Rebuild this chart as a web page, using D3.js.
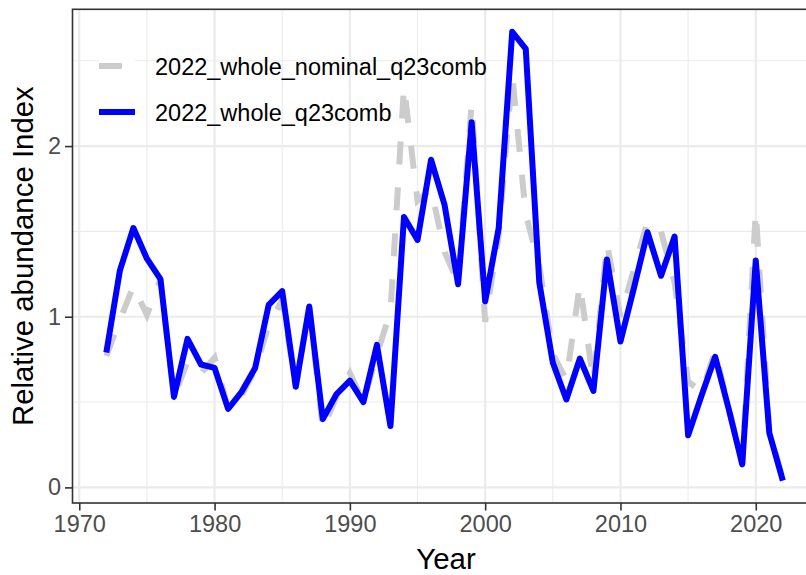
<!DOCTYPE html>
<html>
<head>
<meta charset="utf-8">
<script src="https://cdn.jsdelivr.net/npm/d3@7/dist/d3.min.js"></script>
<style>
  html, body { margin: 0; padding: 0; background: #ffffff; }
  svg { display: block; font-family: "Liberation Sans", Arial, Helvetica, sans-serif; }
</style>
</head>
<body>
<svg id="chart" width="806" height="575"></svg>
<script>
const years = d3.range(1972, 2023);

const nominal = [
  0.77, 0.98, 1.18, 1.01, 1.22, 0.53, 0.74, 0.67, 0.76, 0.46,
  0.54, 0.69, 0.95, 1.10, 0.58, 1.06, 0.34, 0.53, 0.67, 0.50,
  0.78, 1.03, 2.35, 1.68, 1.75, 1.38, 1.20, 2.25, 0.97, 1.48,
  2.42, 1.60, 1.30, 0.78, 0.63, 1.19, 0.62, 1.43, 1.00, 1.28,
  1.56, 1.50, 1.20, 0.62, 0.56, 0.80, 0.47, 0.13, 1.62, 0.33,
  0.05
];

const q23comb = [
  0.79, 1.27, 1.52, 1.34, 1.22, 0.53, 0.87, 0.72, 0.70, 0.46,
  0.56, 0.70, 1.07, 1.15, 0.59, 1.06, 0.40, 0.545, 0.625, 0.50,
  0.835, 0.36, 1.585, 1.45, 1.92, 1.655, 1.19, 2.14, 1.09, 1.52,
  2.67, 2.57, 1.20, 0.73, 0.515, 0.755, 0.565, 1.335, 0.855, 1.17,
  1.495, 1.24, 1.47, 0.305, 0.54, 0.765, 0.46, 0.135, 1.33, 0.32,
  0.04
];

const seriesNames = ["2022_whole_nominal_q23comb", "2022_whole_q23comb"];
const xTicks = [1970, 1980, 1990, 2000, 2010, 2020];
const xMinor = [1975, 1985, 1995, 2005, 2015];
const yTicks = [0, 1, 2];
const yMinor = [0.5, 1.5, 2.5];
const xTitle = "Year";
const yTitle = "Relative abundance Index";

const svg = d3.select("#chart");

const panel = { left: 72.5, top: 9.3, bottom: 503, right: 72.5 + 55 * 13.53 };

// ggplot-like 5% expansion
const xExt = d3.extent(years);
const xPad = (xExt[1] - xExt[0]) * 0.05;
const x = d3.scaleLinear()
  .domain([xExt[0] - xPad, xExt[1] + xPad])
  .range([panel.left, panel.right]);

const allY = nominal.concat(q23comb);
const yExt = d3.extent(allY);
const yPad = (yExt[1] - yExt[0]) * 0.05;
const y = d3.scaleLinear()
  .domain([yExt[0] - yPad, yExt[1] + yPad])
  .range([panel.bottom, panel.top]);

const gridCol = "#EBEBEB";

svg.append("rect")
  .attr("x", panel.left).attr("y", panel.top)
  .attr("width", panel.right - panel.left).attr("height", panel.bottom - panel.top)
  .attr("fill", "#ffffff");

const grid = svg.append("g");
grid.selectAll("line.ymin").data(yMinor).join("line")
  .attr("x1", panel.left).attr("x2", panel.right)
  .attr("y1", d => y(d)).attr("y2", d => y(d))
  .attr("stroke", gridCol).attr("stroke-width", 1.1);
grid.selectAll("line.xmin").data(xMinor).join("line")
  .attr("y1", panel.top).attr("y2", panel.bottom)
  .attr("x1", d => x(d)).attr("x2", d => x(d))
  .attr("stroke", gridCol).attr("stroke-width", 1.1);
grid.selectAll("line.ymaj").data(yTicks).join("line")
  .attr("x1", panel.left).attr("x2", panel.right)
  .attr("y1", d => y(d)).attr("y2", d => y(d))
  .attr("stroke", gridCol).attr("stroke-width", 2.2);
grid.selectAll("line.xmaj").data(xTicks).join("line")
  .attr("y1", panel.top).attr("y2", panel.bottom)
  .attr("x1", d => x(d)).attr("x2", d => x(d))
  .attr("stroke", gridCol).attr("stroke-width", 2.2);

svg.append("clipPath").attr("id", "clip")
  .append("rect")
  .attr("x", panel.left).attr("y", panel.top)
  .attr("width", panel.right - panel.left).attr("height", panel.bottom - panel.top);

const line = d3.line().x((d, i) => x(years[i])).y(d => y(d));

const plot = svg.append("g").attr("clip-path", "url(#clip)");
plot.append("path")
  .attr("d", line(nominal))
  .attr("fill", "none")
  .attr("stroke", "#CCCCCC")
  .attr("stroke-width", 6)
  .attr("stroke-dasharray", "23,23");
plot.append("path")
  .attr("d", line(q23comb))
  .attr("fill", "none")
  .attr("stroke", "#0000FF")
  .attr("stroke-width", 6)
  .attr("stroke-linejoin", "round")
  .attr("stroke-linecap", "butt");

const legendRows = [
  { name: seriesNames[0], color: "#CCCCCC", dash: "23,23", cy: 66 },
  { name: seriesNames[1], color: "#0000FF", dash: null, cy: 112 }
];
const lg = svg.append("g");
legendRows.forEach(r => {
  lg.append("rect")
    .attr("x", 99).attr("y", r.cy - 18)
    .attr("width", 36).attr("height", 36)
    .attr("fill", "#ffffff");
  const l = lg.append("line")
    .attr("x1", 99).attr("x2", 135)
    .attr("y1", r.cy).attr("y2", r.cy)
    .attr("stroke", r.color).attr("stroke-width", 6);
  if (r.dash) l.attr("stroke-dasharray", r.dash);
  lg.append("text")
    .attr("x", 155).attr("y", r.cy + 8.5)
    .attr("font-size", 23.5)
    .attr("fill", "#000000")
    .text(r.name);
});

svg.append("rect")
  .attr("x", panel.left).attr("y", panel.top)
  .attr("width", panel.right - panel.left).attr("height", panel.bottom - panel.top)
  .attr("fill", "none").attr("stroke", "#333333").attr("stroke-width", 1.6);

const xAxis = d3.axisBottom(x).tickValues(xTicks).tickFormat(d3.format("d"))
  .tickSize(7.5).tickPadding(5);
const gx = svg.append("g").attr("transform", `translate(0,${panel.bottom})`).call(xAxis);
gx.select(".domain").remove();
gx.selectAll(".tick line").attr("stroke", "#333333").attr("stroke-width", 1.6);
gx.selectAll(".tick text").attr("fill", "#4D4D4D").attr("font-size", 23.5)
  .attr("font-family", "Liberation Sans, Arial, sans-serif");

const yAxis = d3.axisLeft(y).tickValues(yTicks).tickFormat(d3.format("d"))
  .tickSize(7.5).tickPadding(4);
const gy = svg.append("g").attr("transform", `translate(${panel.left},0)`).call(yAxis);
gy.select(".domain").remove();
gy.selectAll(".tick line").attr("stroke", "#333333").attr("stroke-width", 1.6);
gy.selectAll(".tick text").attr("fill", "#4D4D4D").attr("font-size", 23.5)
  .attr("font-family", "Liberation Sans, Arial, sans-serif");

svg.append("text")
  .attr("x", 446).attr("y", 569)
  .attr("text-anchor", "middle")
  .attr("font-size", 29.4).attr("fill", "#000000")
  .text(xTitle);
svg.append("text")
  .attr("transform", `translate(33,${(panel.top + panel.bottom) / 2}) rotate(-90)`)
  .attr("text-anchor", "middle")
  .attr("font-size", 29.4).attr("fill", "#000000")
  .text(yTitle);
</script>
</body>
</html>
